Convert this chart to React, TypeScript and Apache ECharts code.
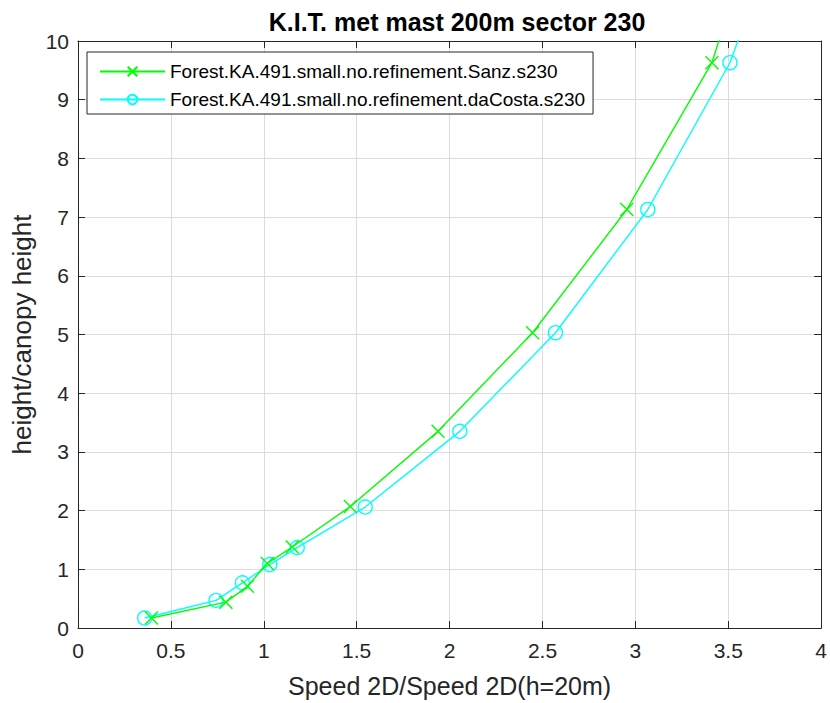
import React, { useEffect, useRef } from "react";
import * as echarts from "echarts";

const titleText = "K.I.T. met mast 200m sector 230";
const xName = "Speed 2D/Speed 2D(h=20m)";
const yName = "height/canopy height";
const nameSanz = "Forest.KA.491.small.no.refinement.Sanz.s230";
const nameDaCosta = "Forest.KA.491.small.no.refinement.daCosta.s230";

const speedSanz = [0.395, 0.796, 0.912, 1.019, 1.153, 1.466, 1.938, 2.447, 2.954, 3.412, 3.7];
const heightSanz = [0.17, 0.44, 0.71, 1.1, 1.38, 2.07, 3.35, 5.03, 7.13, 9.63, 12.5];
const speedDaCosta = [0.359, 0.743, 0.885, 1.032, 1.18, 1.546, 2.055, 2.57, 3.067, 3.509, 3.84];
const heightDaCosta = [0.17, 0.47, 0.77, 1.08, 1.37, 2.06, 3.35, 5.03, 7.13, 9.63, 12.5];

const xMin = 0, xMax = 4, xStep = 0.5;
const yMin = 0, yMax = 10, yStep = 1;

const FONT = "'Liberation Sans', Arial, Helvetica, sans-serif";
const DARK = "#262626";

export default function App() {
  const ref = useRef<HTMLDivElement>(null);
  useEffect(() => {
    if (!ref.current) return;
    const chart = echarts.init(ref.current, undefined, { renderer: "svg" });
    const sanzData = speedSanz.map((s, i) => [s, heightSanz[i]]);
    const dcData = speedDaCosta.map((s, i) => [s, heightDaCosta[i]]);
    const baseX = { type: "value", min: xMin, max: xMax, interval: xStep };
    const baseY = { type: "value", min: yMin, max: yMax, interval: yStep };
    chart.setOption({
      animation: false,
      backgroundColor: "#ffffff",
      textStyle: { fontFamily: FONT },
      title: {
        text: titleText,
        left: 452,
        textAlign: "center",
        top: 4,
        textStyle: { fontFamily: FONT, fontSize: 25, fontWeight: "bold", color: "#000" },
      },
      grid: { left: 78, right: 5, top: 41, bottom: 71, containLabel: false },
      legend: {
        left: 87,
        top: 52,
        orient: "vertical",
        backgroundColor: "#fff",
        borderColor: DARK,
        borderWidth: 1,
        padding: [10, 8, 5, 12],
        itemWidth: 65,
        itemHeight: 12,
        itemGap: 9,
        textStyle: { fontFamily: FONT, fontSize: 19, color: "#000" },
        data: [nameSanz, nameDaCosta],
      },
      xAxis: [
        {
          ...baseX,
          position: "bottom",
          name: xName,
          nameLocation: "middle",
          nameGap: 45,
          nameTextStyle: { fontFamily: FONT, fontSize: 25, color: DARK },
          axisLine: { show: true, lineStyle: { color: DARK, width: 1 } },
          axisTick: { show: true, inside: true, length: 7, lineStyle: { color: DARK } },
          axisLabel: { fontFamily: FONT, fontSize: 21, color: DARK, margin: 12 },
          splitLine: { show: true, lineStyle: { color: "#dcdcdc", width: 1 } },
        },
        {
          ...baseX,
          position: "top",
          axisLine: { show: true, onZero: false, lineStyle: { color: DARK, width: 1 } },
          axisTick: { show: true, inside: true, length: 7, lineStyle: { color: DARK } },
          axisLabel: { show: false },
          splitLine: { show: false },
        },
      ],
      yAxis: [
        {
          ...baseY,
          position: "left",
          name: yName,
          nameLocation: "middle",
          nameGap: 43,
          nameRotate: 90,
          nameTextStyle: { fontFamily: FONT, fontSize: 26, color: DARK },
          axisLine: { show: true, lineStyle: { color: DARK, width: 1 } },
          axisTick: { show: true, inside: true, length: 7, lineStyle: { color: DARK } },
          axisLabel: { fontFamily: FONT, fontSize: 21, color: DARK, margin: 9 },
          splitLine: { show: true, lineStyle: { color: "#dcdcdc", width: 1 } },
        },
        {
          ...baseY,
          position: "right",
          axisLine: { show: true, onZero: false, lineStyle: { color: DARK, width: 1 } },
          axisTick: { show: true, inside: true, length: 7, lineStyle: { color: DARK } },
          axisLabel: { show: false },
          splitLine: { show: false },
        },
      ],
      series: [
        {
          name: nameSanz,
          type: "line",
          xAxisIndex: 0,
          yAxisIndex: 0,
          data: sanzData,
          clip: true,
          symbol: "path://M0 0L10 10M10 0L0 10",
          symbolSize: 13,
          lineStyle: { color: "#00ff00", width: 1.4 },
          itemStyle: { color: "rgba(0,0,0,0)", borderColor: "#00ff00", borderWidth: 1.4 },
          emphasis: { disabled: true },
          z: 3,
        },
        {
          name: nameDaCosta,
          type: "line",
          xAxisIndex: 0,
          yAxisIndex: 0,
          data: dcData,
          clip: true,
          symbol: "circle",
          symbolSize: 14,
          lineStyle: { color: "#00ffff", width: 1.4 },
          itemStyle: { color: "rgba(0,0,0,0)", borderColor: "#00ffff", borderWidth: 1.4 },
          emphasis: { disabled: true },
          z: 2,
        },
      ],
    });
    return () => chart.dispose();
  }, []);
  return (
    <div
      ref={ref}
      style={{ position: "absolute", left: 0, top: 0, width: 830, height: 703 }}
    />
  );
}
